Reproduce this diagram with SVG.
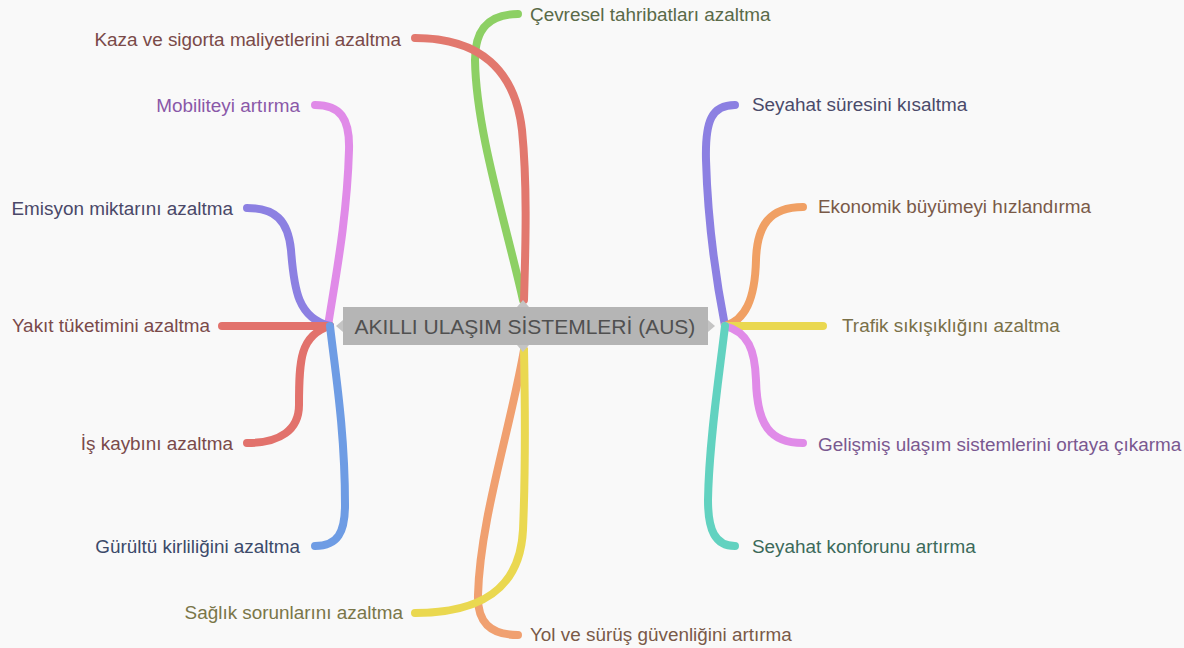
<svg xmlns="http://www.w3.org/2000/svg" width="1184" height="648" viewBox="0 0 1184 648">
<style>
.lbl{font-family:"Liberation Sans",Arial,sans-serif;font-size:18.9px;dominant-baseline:central}
.br{fill:none;stroke-width:8;stroke-linecap:round;stroke-linejoin:round}
.ctr{font-family:"Liberation Sans",Arial,sans-serif;font-size:21px;fill:#505050;dominant-baseline:central;text-anchor:middle}
</style>
<rect width="1184" height="648" fill="#f9f9f9"/>
<g id="connectors">
<path class="br" stroke="#e08be8" d="M315,105 C340,105 350,118 349,150 C347,220 335,280 328,326"/>
<path class="br" stroke="#8c80e2" d="M247,208 C275,208 288,220 291,250 C294,290 298,318 330,326"/>
<path class="br" stroke="#e2726c" d="M222,326 L330,326"/>
<path class="br" stroke="#e2726c" d="M247,443 C280,443 299,430 299,405 C299,360 300,335 330,326"/>
<path class="br" stroke="#6e9ce4" d="M315,546 C338,546 345,532 345,505 C345,430 335,370 330,326"/>
<path class="br" stroke="#8dd064" d="M518,14 C490,14 475,28 475,60 C476,130 505,220 523,300"/>
<path class="br" stroke="#e2786e" d="M415,38 C480,38 515,70 522,130 C528,190 525,260 524,300"/>
<path class="br" stroke="#f0a070" d="M518,635 C490,635 477,622 478,595 C480,520 510,430 524,350"/>
<path class="br" stroke="#ead850" d="M415,613 C480,613 520,590 523,530 C526,460 525,400 524,350"/>
<path class="br" stroke="#8c80e2" d="M735,105 C712,105 705,120 706,160 C708,230 718,290 725,326"/>
<path class="br" stroke="#f0a064" d="M803,207 C770,207 757,225 756,260 C755,300 745,320 725,326"/>
<path class="br" stroke="#ead850" d="M725,326 L823,326"/>
<path class="br" stroke="#e08be8" d="M725,326 C748,332 755,350 756,380 C757,425 770,443 803,443"/>
<path class="br" stroke="#62d2c0" d="M735,546 C715,546 708,530 708,500 C709,440 720,370 725,326"/>
</g>
<g id="center">
<rect x="343" y="307" width="365" height="38" fill="#b5b5b5"/>
<polygon points="343,320 336,326 343,332" fill="#c4c4c4"/>
<polygon points="708,320 715,326 708,332" fill="#c4c4c4"/>
<polygon points="517,307 523,300 529,307" fill="#c4c4c4"/>
<polygon points="517,345 523,352 529,345" fill="#c4c4c4"/>
<text class="ctr" x="525" y="326">AKILLI ULAŞIM SİSTEMLERİ (AUS)</text>
</g>
<g id="n-kaza"><text class="lbl" x="401" y="39" text-anchor="end" fill="#7a4a48">Kaza ve sigorta maliyetlerini azaltma</text></g>
<g id="n-cevre"><text class="lbl" x="530" y="14" fill="#5a6a48">Çevresel tahribatları azaltma</text></g>
<g id="n-mobil"><text class="lbl" x="300" y="105" text-anchor="end" fill="#8a58a8">Mobiliteyi artırma</text></g>
<g id="n-emisyon"><text class="lbl" x="233" y="208" text-anchor="end" fill="#4a4868">Emisyon miktarını azaltma</text></g>
<g id="n-yakit"><text class="lbl" x="210" y="325" text-anchor="end" fill="#7a4a4a">Yakıt tüketimini azaltma</text></g>
<g id="n-is"><text class="lbl" x="233" y="443" text-anchor="end" fill="#7a4a4a">İş kaybını azaltma</text></g>
<g id="n-gurultu"><text class="lbl" x="300" y="546" text-anchor="end" fill="#3c4a6a">Gürültü kirliliğini azaltma</text></g>
<g id="n-saglik"><text class="lbl" x="403" y="612" text-anchor="end" fill="#7a7648">Sağlık sorunlarını azaltma</text></g>
<g id="n-yol"><text class="lbl" x="530" y="634" fill="#7a5a48">Yol ve sürüş güvenliğini artırma</text></g>
<g id="n-seyahat"><text class="lbl" x="752" y="104" fill="#4a4a6a">Seyahat süresini kısaltma</text></g>
<g id="n-ekonomik"><text class="lbl" x="818" y="206" fill="#7a5a48">Ekonomik büyümeyi hızlandırma</text></g>
<g id="n-trafik"><text class="lbl" x="842" y="325" fill="#7a7048">Trafik sıkışıklığını azaltma</text></g>
<g id="n-gelismis"><text class="lbl" x="818" y="444" fill="#7a5890">Gelişmiş ulaşım sistemlerini ortaya çıkarma</text></g>
<g id="n-konfor"><text class="lbl" x="752" y="546" fill="#3c6a5a">Seyahat konforunu artırma</text></g>
</svg>
